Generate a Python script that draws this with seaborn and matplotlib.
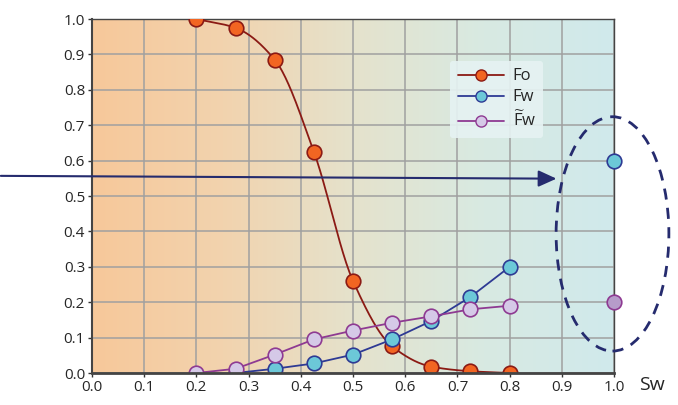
import numpy as np
import pandas as pd
import matplotlib
matplotlib.use("Agg")
import matplotlib.pyplot as plt
from matplotlib.colors import LinearSegmentedColormap
from matplotlib.lines import Line2D
from matplotlib.patches import Ellipse
import seaborn as sns

# data
sw = [0.2, 0.275, 0.35, 0.425, 0.5, 0.575, 0.65, 0.725, 0.8]
fo = [1.0, 0.975, 0.885, 0.625, 0.26, 0.075, 0.018, 0.005, 0.0]
sw_fw = [0.275, 0.35, 0.425, 0.5, 0.575, 0.65, 0.725, 0.8]
fw = [0.0, 0.012, 0.027, 0.052, 0.095, 0.147, 0.215, 0.30]
fw_tilde = [0.0, 0.012, 0.052, 0.095, 0.12, 0.142, 0.16, 0.18, 0.19]
sw_end = [1.0]
fw_end = [0.6]
fw_tilde_end = [0.2]
ticks = [round(0.1 * i, 1) for i in range(11)]


def pchip(x, y, xs):
    # monotone cubic for the smooth Fo curve
    x = np.asarray(x, float); y = np.asarray(y, float)
    h = np.diff(x); d = np.diff(y) / h
    m = np.zeros_like(y)
    for k in range(1, len(x) - 1):
        if d[k - 1] * d[k] > 0:
            w1 = 2 * h[k] + h[k - 1]; w2 = h[k] + 2 * h[k - 1]
            m[k] = (w1 + w2) / (w1 / d[k - 1] + w2 / d[k])
    m[0] = d[0]; m[-1] = d[-1]
    idx = np.clip(np.searchsorted(x, xs) - 1, 0, len(h) - 1)
    t = (xs - x[idx]) / h[idx]
    h00 = 2*t**3 - 3*t**2 + 1; h10 = t**3 - 2*t**2 + t
    h01 = -2*t**3 + 3*t**2; h11 = t**3 - t**2
    return h00*y[idx] + h10*h[idx]*m[idx] + h01*y[idx+1] + h11*h[idx]*m[idx+1]


sns.set_style("white")
plt.rcParams['font.family'] = ['Open Sans', 'DejaVu Sans']

fig = plt.figure(figsize=(6.78, 4.05), dpi=100)
ax = fig.add_axes([0.1357, 0.079, 0.77, 0.874])

# background gradient
cmap = LinearSegmentedColormap.from_list(
    "bg", ["#F7C89A", "#F2D3AE", "#E5E2CC", "#D8EAE2", "#D0E9EC"])
grad = np.linspace(0, 1, 256).reshape(1, -1)
ax.imshow(grad, extent=[0, 1, 0, 1], aspect="auto", cmap=cmap, zorder=0)

for t in ticks:
    ax.axhline(t, color="#a0a0a0", lw=1.1, zorder=1)
    ax.axvline(t, color="#a0a0a0", lw=1.1, zorder=1)

# Fo smooth curve
xs = np.linspace(sw[0], sw[-1], 300)
df_curve = pd.DataFrame({"Sw": xs, "Fo": pchip(sw, fo, xs)})
sns.lineplot(data=df_curve, x="Sw", y="Fo", ax=ax, color="#8B1A14", lw=1.3, zorder=3)
ax.plot(sw, fo, ls="", marker="o", ms=10.5, mfc="#F26522", mec="#8B1A14", mew=1.2, zorder=4)

sns.lineplot(x=sw_fw, y=fw, ax=ax, color="#2E3A94", lw=1.3, marker="o", markersize=10.5,
             markerfacecolor="#6CC8D8", markeredgecolor="#2E3A94", markeredgewidth=1.2, zorder=5)
sns.lineplot(x=sw, y=fw_tilde, ax=ax, color="#8E3A92", lw=1.3, marker="o", markersize=10.5,
             markerfacecolor="#D5C9E7", markeredgecolor="#8E3A92", markeredgewidth=1.2, zorder=6)

ax.plot(sw_end, fw_end, ls="", marker="o", ms=10.5, mfc="#6CC8D8", mec="#2E3A94",
        mew=1.2, zorder=7, clip_on=False)
ax.plot(sw_end, fw_tilde_end, ls="", marker="o", ms=10.5, mfc="#B69BCA", mec="#8E3A92",
        mew=1.2, zorder=7, clip_on=False)

# arrow and dashed ellipse
navy = "#252B6E"
ax.annotate("", xy=(0.895, 0.549), xytext=(-0.18, 0.557),
            arrowprops=dict(arrowstyle="-|>,head_length=1.1,head_width=0.5", color=navy, lw=1.5),
            annotation_clip=False, zorder=8)
ell = Ellipse((0.997, 0.393), 0.216, 0.662, fill=False, ec=navy, lw=2.0,
              ls=(0, (4, 3)), clip_on=False, zorder=8)
ax.add_patch(ell)

ax.set_xlim(0, 1)
ax.set_ylim(0, 1)
ax.set_xticks(ticks)
ax.set_yticks(ticks)
ax.set_xticklabels([f"{t:.1f}" for t in ticks])
ax.set_yticklabels([f"{t:.1f}" for t in ticks])
ax.tick_params(axis="both", labelsize=11, length=3, width=1, color="#333333", pad=2)
ax.tick_params(axis="x", bottom=True)
ax.tick_params(axis="y", left=True)
ax.set_xlabel("")
ax.set_ylabel("")
for s in ax.spines.values():
    s.set_color("#444444")
    s.set_linewidth(1.0)
ax.spines["bottom"].set_linewidth(2.0)
ax.spines["left"].set_linewidth(1.5)
ax.spines["bottom"].set_zorder(9)

fig.text(0.962, 0.05, "Sw", fontsize=14, ha="center", va="center")

handles = [
    Line2D([], [], color="#8B1A14", lw=1.3, marker="o", ms=8, mfc="#F26522", mec="#8B1A14"),
    Line2D([], [], color="#2E3A94", lw=1.3, marker="o", ms=8, mfc="#6CC8D8", mec="#2E3A94"),
    Line2D([], [], color="#8E3A92", lw=1.3, marker="o", ms=8, mfc="#D5C9E7", mec="#8E3A92"),
]
leg = ax.legend(handles, ["Fo", "Fw", r"$\widetilde{\mathregular{F}}\mathregular{w}$"],
                loc="upper left", bbox_to_anchor=(0.67, 0.905), frameon=True,
                fontsize=12, handlelength=2.8, handletextpad=0.5, labelspacing=0.3,
                borderpad=0.45)
leg.get_frame().set_facecolor("#E6F3F3")
leg.get_frame().set_edgecolor("none")
leg.get_frame().set_alpha(0.9)
leg.set_zorder(10)

fig.savefig("out.png", dpi=100)
